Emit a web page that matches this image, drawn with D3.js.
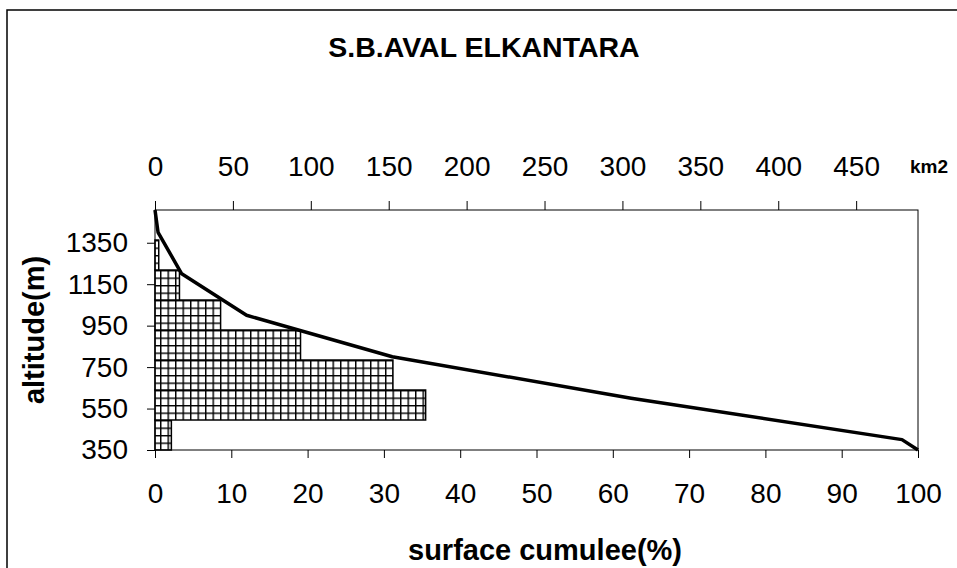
<!DOCTYPE html>
<html>
<head>
<meta charset="utf-8">
<script src="https://cdn.jsdelivr.net/npm/d3@7"></script>
<style>
  body { margin: 0; background: #fff; }
  text { font-family: "Liberation Sans", Arial, sans-serif; fill: #000; }
</style>
</head>
<body>
<div id="chart"></div>
<script>
"use strict";

// altitude bands (bars, area in km2) - bottom to top
const bands = ["350-400", "400-600", "600-800", "800-1000", "1000-1200", "1200-1400", "1400-1508", "top"];
const bandArea = [10.5, 173.7, 152.7, 93.4, 42.1, 15.7, 2.4, 0];

// hypsometric curve
const altitude = [1508, 1400, 1200, 1000, 800, 600, 400, 350];
const cumulPct = [0, 0.4, 3.5, 12.0, 31.1, 62.4, 97.9, 100];

const totalArea = 489.7;
const altTicks = [350, 550, 750, 950, 1150, 1350];
const pctTicks = d3.range(0, 101, 10);
const kmTicks = d3.range(0, 451, 50);

const W = 957, H = 568;
const margin = { top: 210, right: 39, bottom: 118, left: 155 };
const width = W - margin.left - margin.right,
    height = H - margin.top - margin.bottom;

const svg = d3.select("#chart").append("svg")
    .attr("width", W)
    .attr("height", H);

// outer border of the chart object
svg.append("rect")
    .attr("x", 7).attr("y", 10)
    .attr("width", 1000).attr("height", 600)
    .attr("fill", "none").attr("stroke", "#000").attr("stroke-width", 1.5);

// grid hatch pattern
const pat = svg.append("defs").append("pattern")
    .attr("id", "grid")
    .attr("patternUnits", "userSpaceOnUse")
    .attr("width", 7.5).attr("height", 7.5)
    .attr("x", margin.left).attr("y", margin.top);
pat.append("rect").attr("width", 7.5).attr("height", 7.5).attr("fill", "#fff");
pat.append("path")
    .attr("d", "M0,0H7.5M0,0V7.5")
    .attr("stroke", "#000").attr("stroke-width", 2.9);

const g = svg.append("g")
    .attr("transform", `translate(${margin.left},${margin.top})`);

const x = d3.scaleLinear().domain([0, 100]).range([0, width]);
const xKm = d3.scaleLinear().domain([0, totalArea]).range([0, width]);
const y = d3.scaleLinear().domain([350, 1508]).range([height, 0]);
const yBand = d3.scaleBand().domain(bands).range([height, 0]).padding(0);

// bars
g.selectAll("rect.bar")
    .data(bands.map((b, i) => ({ band: b, area: bandArea[i] })).filter(d => d.area > 0))
    .join("rect")
    .attr("class", "bar")
    .attr("x", 0)
    .attr("y", d => yBand(d.band))
    .attr("width", d => xKm(d.area))
    .attr("height", yBand.bandwidth())
    .attr("fill", "url(#grid)")
    .attr("stroke", "#000")
    .attr("stroke-width", 1.5);

// plot frame
g.append("rect")
    .attr("width", width).attr("height", height)
    .attr("fill", "none").attr("stroke", "#000").attr("stroke-width", 1);

// curve
const line = d3.line()
    .x(d => x(d.p))
    .y(d => y(d.a));
g.append("path")
    .datum(altitude.map((a, i) => ({ a: a, p: cumulPct[i] })))
    .attr("d", line)
    .attr("fill", "none")
    .attr("stroke", "#000")
    .attr("stroke-width", 3.5)
    .attr("stroke-linejoin", "round");

// axes
const styleAxis = sel => {
    sel.select(".domain").remove();
    sel.selectAll(".tick line").attr("stroke", "#000");
    sel.selectAll(".tick text")
        .style("font-family", "'Liberation Sans', Arial, sans-serif")
        .style("font-size", "28px")
        .attr("fill", "#000");
};

g.append("g")
    .attr("transform", `translate(0,${height})`)
    .call(d3.axisBottom(x).tickValues(pctTicks).tickSize(8).tickPadding(25))
    .call(styleAxis);

g.append("g")
    .call(d3.axisTop(xKm).tickValues(kmTicks).tickSize(9).tickPadding(25))
    .call(styleAxis);

g.append("g")
    .call(d3.axisLeft(y).tickValues(altTicks).tickFormat(d3.format("d")).tickSize(8).tickPadding(19))
    .call(styleAxis);

// labels
svg.append("text")
    .attr("x", 484).attr("y", 57)
    .attr("text-anchor", "middle")
    .style("font-size", "28.5px").style("font-weight", "bold")
    .text("S.B.AVAL ELKANTARA");

svg.append("text")
    .attr("x", 545).attr("y", 560)
    .attr("text-anchor", "middle")
    .style("font-size", "29px").style("font-weight", "bold")
    .text("surface cumulee(%)");

svg.append("text")
    .attr("transform", "translate(44,330) rotate(-90)")
    .attr("text-anchor", "middle")
    .style("font-size", "29px").style("font-weight", "bold")
    .text("altitude(m)");

svg.append("text")
    .attr("x", 929).attr("y", 173)
    .attr("text-anchor", "middle")
    .style("font-size", "19px").style("font-weight", "bold")
    .text("km2");
</script>
</body>
</html>
